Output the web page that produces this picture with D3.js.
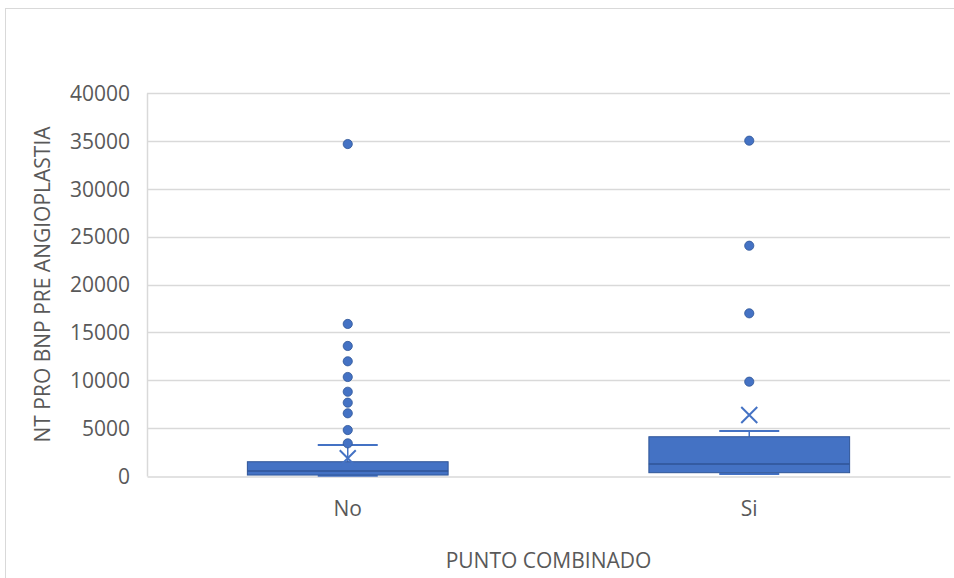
<!DOCTYPE html>
<html>
<head>
<meta charset="utf-8">
<script src="https://cdn.jsdelivr.net/npm/d3@7/dist/d3.min.js"></script>
<style>
  html, body { margin: 0; padding: 0; background: #ffffff; }
  svg { display: block; }
  text { font-family: "Open Sans", "Liberation Sans", sans-serif; fill: #595959; }
</style>
</head>
<body>
<svg id="chart" width="954" height="578"></svg>
<script>
// ---- Data ----
const categories = ["No", "Si"];
const q1Values = [100, 345];
const medianValues = [520, 1250];
const q3Values = [1490, 4100];
const whiskerLow = [20, 210];
const whiskerHigh = [3240, 4700];
const meanValues = [1850, 6370];
const outliersNo = [34670, 15880, 13580, 11980, 10340, 8800, 7660, 6550, 4800, 3410];
const outliersSi = [35020, 24050, 16990, 9850];
const outliers = [outliersNo, outliersSi];
const yTicks = [0, 5000, 10000, 15000, 20000, 25000, 30000, 35000, 40000];
const xTitle = "PUNTO COMBINADO";
const yTitle = "NT PRO BNP PRE ANGIOPLASTIA";

// ---- Layout ----
const W = 954, H = 578;
const plot = { left: 147, right: 950, top: 93, bottom: 476 };
const fill = "#4472C4", edge = "#2F5597";
const fontSize = "21px";

const svg = d3.select("#chart");

// outer chart border
svg.append("rect")
  .attr("x", 5.5).attr("y", 8.5)
  .attr("width", 1200).attr("height", 1200)
  .attr("fill", "none").attr("stroke", "#D9D9D9").attr("stroke-width", 1);

const x = d3.scaleBand().domain(categories).range([plot.left, plot.right]).paddingInner(0).paddingOuter(0);
const y = d3.scaleLinear().domain([0, 40000]).range([plot.bottom, plot.top]);

// gridlines
svg.append("g").selectAll("line").data(yTicks.filter(t => t > 0)).join("line")
  .attr("x1", plot.left).attr("x2", plot.right)
  .attr("y1", d => Math.round(y(d)) + 0.5).attr("y2", d => Math.round(y(d)) + 0.5)
  .attr("stroke", "#D9D9D9").attr("stroke-width", 1.5);

// y axis (labels only)
const yAxis = d3.axisLeft(y).tickValues(yTicks).tickSize(0).tickPadding(17).tickFormat(d3.format("d"));
const gy = svg.append("g").attr("transform", `translate(${plot.left},0)`).call(yAxis);
gy.select(".domain").attr("stroke", "#D9D9D9").attr("stroke-width", 1.5);
gy.selectAll("text").style("font-size", fontSize).attr("fill", "#595959").attr("dy", "0.35em");

// x axis
const xAxis = d3.axisBottom(x).tickSize(0).tickPadding(25);
const gx = svg.append("g").attr("transform", `translate(0,${plot.bottom + 0.5})`).call(xAxis);
gx.select(".domain").attr("stroke", "#D9D9D9").attr("stroke-width", 1.5);
gx.selectAll("text").style("font-size", fontSize).attr("fill", "#595959");

// boxes
const boxW = x.bandwidth() * 0.5;
const capW = 60;
const groups = svg.append("g").selectAll("g").data(categories).join("g")
  .attr("transform", d => `translate(${x(d) + x.bandwidth() / 2},0)`);

groups.each(function(cat, i) {
  const g = d3.select(this);
  // whiskers
  g.append("line").attr("x1", 0).attr("x2", 0)
    .attr("y1", y(q3Values[i])).attr("y2", y(whiskerHigh[i]))
    .attr("stroke", fill).attr("stroke-width", 1.5);
  g.append("line").attr("x1", -capW / 2).attr("x2", capW / 2)
    .attr("y1", y(whiskerHigh[i])).attr("y2", y(whiskerHigh[i]))
    .attr("stroke", fill).attr("stroke-width", 1.8);
  g.append("line").attr("x1", 0).attr("x2", 0)
    .attr("y1", y(q1Values[i])).attr("y2", y(whiskerLow[i]))
    .attr("stroke", fill).attr("stroke-width", 1.5);
  g.append("line").attr("x1", -capW / 2).attr("x2", capW / 2)
    .attr("y1", y(whiskerLow[i])).attr("y2", y(whiskerLow[i]))
    .attr("stroke", fill).attr("stroke-width", 1.8);
  // box
  g.append("rect")
    .attr("x", -boxW / 2).attr("width", boxW)
    .attr("y", y(q3Values[i])).attr("height", y(q1Values[i]) - y(q3Values[i]))
    .attr("fill", fill).attr("stroke", edge).attr("stroke-width", 1);
  // median
  g.append("line").attr("x1", -boxW / 2).attr("x2", boxW / 2)
    .attr("y1", y(medianValues[i])).attr("y2", y(medianValues[i]))
    .attr("stroke", edge).attr("stroke-width", 1.5);
  // mean marker (X)
  const my = y(meanValues[i]), s = 8;
  g.append("path")
    .attr("d", `M${-s},${my - s}L${s},${my + s}M${-s},${my + s}L${s},${my - s}`)
    .attr("stroke", fill).attr("stroke-width", 2).attr("fill", "none");
  // outliers
  g.selectAll("circle").data(outliers[i]).join("circle")
    .attr("cx", 0).attr("cy", d => y(d)).attr("r", 4.6)
    .attr("fill", fill).attr("stroke", edge).attr("stroke-width", 0.8);
});

// axis titles
svg.append("text")
  .attr("x", (plot.left + plot.right) / 2).attr("y", 568)
  .attr("text-anchor", "middle").style("font-size", fontSize)
  .text(xTitle);
svg.append("text")
  .attr("transform", `translate(50,${(plot.top + plot.bottom) / 2}) rotate(-90)`)
  .attr("text-anchor", "middle").style("font-size", fontSize)
  .text(yTitle);
</script>
</body>
</html>
